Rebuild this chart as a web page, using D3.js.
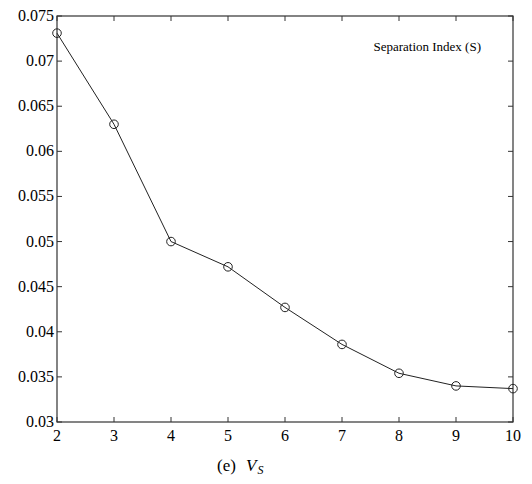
<!DOCTYPE html>
<html>
<head>
<meta charset="utf-8">
<script src="https://cdn.jsdelivr.net/npm/d3@7"></script>
<style>
	body { margin: 0; background: #fff; }
</style>
</head>
<body>
<div class="container"></div>
<script>
var clusters = [2, 3, 4, 5, 6, 7, 8, 9, 10];
var separation = [0.0731, 0.0630, 0.0500, 0.0472, 0.0427, 0.0386, 0.0354, 0.0340, 0.0337];
var xTicks = [2, 3, 4, 5, 6, 7, 8, 9, 10];
var yTicks = [0.03, 0.035, 0.04, 0.045, 0.05, 0.055, 0.06, 0.065, 0.07, 0.075];
var yLabels = ["0.03", "0.035", "0.04", "0.045", "0.05", "0.055", "0.06", "0.065", "0.07", "0.075"];

var chart = function () {
	var width = 532, height = 484;
	var left = 57, right = 513, top = 16, bottom = 422;
	var serif = "Liberation Serif, DejaVu Serif, serif";

	var paper = d3.select('.container').append("svg")
		.attr("width", width)
		.attr("height", height);

	var x = d3.scaleLinear().domain([2, 10]).range([left, right]);
	var y = d3.scaleLinear().domain([0.03, 0.075]).range([bottom, top]);

	var axisColor = "#333";

	// frame
	paper.append("rect")
		.attr("x", left).attr("y", top)
		.attr("width", right - left).attr("height", bottom - top)
		.attr("fill", "none").attr("stroke", axisColor).attr("stroke-width", 1.2);

	// ticks, pointing inward on all four sides
	var tl = 5;
	paper.selectAll(".xt").data(xTicks).enter().append("path")
		.attr("d", function (d) {
			return "M" + x(d) + "," + bottom + "v" + (-tl) + "M" + x(d) + "," + top + "v" + tl;
		})
		.attr("stroke", axisColor);
	paper.selectAll(".yt").data(yTicks).enter().append("path")
		.attr("d", function (d) {
			return "M" + left + "," + y(d) + "h" + tl + "M" + right + "," + y(d) + "h" + (-tl);
		})
		.attr("stroke", axisColor);

	paper.selectAll(".xl").data(xTicks).enter().append("text")
		.attr("x", function (d) { return x(d); })
		.attr("y", bottom + 19)
		.attr("text-anchor", "middle")
		.attr("font-size", 16)
		.attr("font-family", serif)
		.text(function (d) { return d; });

	paper.selectAll(".yl").data(yTicks).enter().append("text")
		.attr("x", left - 3)
		.attr("y", function (d) { return y(d) + 5; })
		.attr("text-anchor", "end")
		.attr("font-size", 16)
		.attr("font-family", serif)
		.text(function (d, i) { return yLabels[i]; });

	var line = d3.line()
		.x(function (d, i) { return x(clusters[i]); })
		.y(function (d) { return y(d); });

	paper.append("path")
		.datum(separation)
		.attr("d", line)
		.attr("fill", "none")
		.attr("stroke", "#222")
		.attr("stroke-width", 1);

	paper.selectAll(".pt").data(separation).enter().append("circle")
		.attr("cx", function (d, i) { return x(clusters[i]); })
		.attr("cy", function (d) { return y(d); })
		.attr("r", 4.3)
		.attr("fill", "none")
		.attr("stroke", "#222")
		.attr("stroke-width", 1);

	paper.append("text")
		.attr("x", 481).attr("y", 51)
		.attr("text-anchor", "end")
		.attr("font-size", 13)
		.attr("font-family", serif)
		.text("Separation Index (S)");

	paper.append("text")
		.attr("x", 217).attr("y", 471)
		.attr("font-size", 17)
		.attr("font-family", serif)
		.text("(e)");
	var cap = paper.append("text")
		.attr("x", 246).attr("y", 471)
		.attr("font-size", 17)
		.attr("font-style", "italic")
		.attr("font-family", serif);
	cap.append("tspan").text("V");
	cap.append("tspan").attr("font-size", 12).attr("dy", 3).attr("dx", 1).text("S");
};

chart();
</script>
</body>
</html>
